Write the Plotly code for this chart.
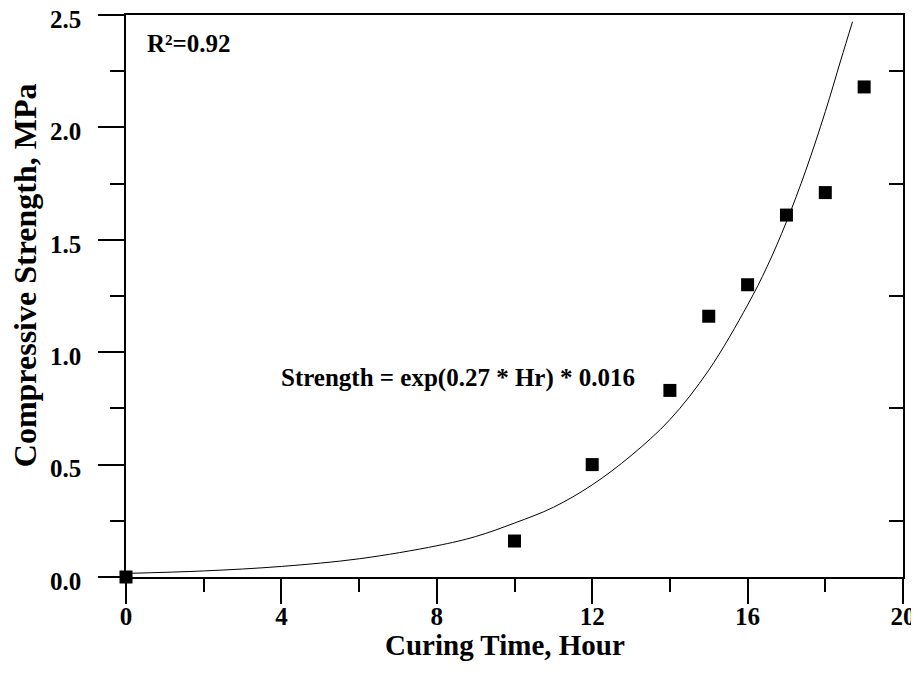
import plotly.graph_objects as go

# Measured data
hours = [0, 10, 12, 14, 15, 16, 17, 18, 19]
strength = [0.0, 0.16, 0.50, 0.83, 1.16, 1.30, 1.61, 1.71, 2.18]

# Fitted curve
fit_hours = [0, 2, 4, 6, 8, 9, 10, 11, 12, 13, 14, 15, 16, 16.5, 17, 17.5, 18, 18.4, 18.7]
fit_strength = [0.016, 0.027, 0.047, 0.081, 0.139, 0.18, 0.24, 0.31, 0.41, 0.54, 0.70,
                0.92, 1.21, 1.38, 1.58, 1.81, 2.07, 2.30, 2.47]

x_range = [0, 20]
y_range = [0, 2.5]
right_ticks = [0.25, 0.75, 1.25, 1.75, 2.25]

FONT = "Liberation Serif"

fig = go.Figure()
fig.add_trace(go.Scatter(x=fit_hours, y=fit_strength, mode="lines",
                         line=dict(color="black", width=1, shape="spline"),
                         showlegend=False, cliponaxis=False))
fig.add_trace(go.Scatter(x=hours, y=strength, mode="markers",
                         marker=dict(symbol="square", size=13, color="black"),
                         showlegend=False, cliponaxis=False))
fig.add_trace(go.Scatter(x=[], y=[], yaxis="y2", showlegend=False))

fig.add_annotation(x=0.5, y=2.375, xref="x", yref="y", text="R²=0.92",
                   showarrow=False, xanchor="left", yanchor="middle",
                   font=dict(family=FONT, size=25, color="black", weight="bold"))
fig.add_annotation(x=3.95, y=0.885, xref="x", yref="y",
                   text="Strength = exp(0.27 * Hr) * 0.016",
                   showarrow=False, xanchor="left", yanchor="middle",
                   font=dict(family=FONT, size=25, color="black", weight="bold"))

# axis titles
fig.add_annotation(x=0.488, y=-0.121, xref="paper", yref="paper",
                   text="Curing Time, Hour", showarrow=False,
                   xanchor="center", yanchor="middle",
                   font=dict(family=FONT, size=29, color="black", weight="bold"))
fig.add_annotation(x=-0.130, y=0.537, xref="paper", yref="paper",
                   text="Compressive Strength, MPa", showarrow=False, textangle=-90,
                   xanchor="center", yanchor="middle",
                   font=dict(family=FONT, size=32, color="black", weight="bold"))

fig.update_layout(
    width=911, height=667,
    margin=dict(l=118, r=16, t=7, b=98, autoexpand=False),
    paper_bgcolor="white", plot_bgcolor="white",
    showlegend=False,
    xaxis=dict(range=x_range, dtick=4, tick0=0, ticks="outside", ticklen=25,
               tickwidth=1.5, tickcolor="black", showline=True, linecolor="black",
               linewidth=1.5, mirror=True, showgrid=False, zeroline=False,
               automargin=False, ticklabelstandoff=-9, ticklabeloverflow="allow",
               tickfont=dict(family=FONT, size=25, color="black", weight="bold"),
               minor=dict(dtick=2, tick0=0, ticks="outside", ticklen=13,
                          tickwidth=1.5, tickcolor="black", showgrid=False)),
    yaxis=dict(range=y_range, dtick=0.5, tick0=0, tickformat=".1f", ticks="outside",
               ticklen=26, tickwidth=1.5, tickcolor="black", showline=True,
               linecolor="black", linewidth=1.5, mirror=True, showgrid=False,
               zeroline=False, automargin=False, ticklabelstandoff=12,
               ticklabelshift=4, ticklabeloverflow="allow",
               tickfont=dict(family=FONT, size=25, color="black", weight="bold"),
               minor=dict(dtick=0.25, tick0=0, ticks="outside", ticklen=14,
                          tickwidth=1.5, tickcolor="black", showgrid=False)),
    yaxis2=dict(range=y_range, overlaying="y", side="right", tickvals=right_ticks,
                ticks="inside", ticklen=14, tickwidth=1.5, tickcolor="black",
                showticklabels=False, showline=True, linecolor="black", linewidth=1.5,
                showgrid=False, zeroline=False, automargin=False),
)

fig.write_html("out.html")
